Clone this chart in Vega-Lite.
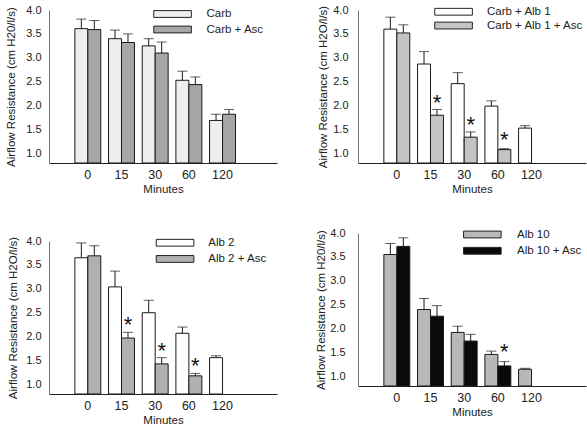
{
  "$schema": "https://vega.github.io/schema/vega-lite/v6.json",
  "background": "white",
  "padding": {"left": 5, "top": 4, "right": 2, "bottom": 2},
  "spacing": 38,
  "datasets": {
    "p1": [
      {"minute": "0", "series": "Carb", "value": 3.61, "err": 3.81, "star": null},
      {"minute": "0", "series": "Carb + Asc", "value": 3.59, "err": 3.78, "star": null},
      {"minute": "15", "series": "Carb", "value": 3.40, "err": 3.58, "star": null},
      {"minute": "15", "series": "Carb + Asc", "value": 3.32, "err": 3.50, "star": null},
      {"minute": "30", "series": "Carb", "value": 3.25, "err": 3.40, "star": null},
      {"minute": "30", "series": "Carb + Asc", "value": 3.10, "err": 3.33, "star": null},
      {"minute": "60", "series": "Carb", "value": 2.53, "err": 2.72, "star": null},
      {"minute": "60", "series": "Carb + Asc", "value": 2.44, "err": 2.60, "star": null},
      {"minute": "120", "series": "Carb", "value": 1.69, "err": 1.82, "star": null},
      {"minute": "120", "series": "Carb + Asc", "value": 1.82, "err": 1.92, "star": null}
    ],
    "p2": [
      {"minute": "0", "series": "Carb + Alb 1", "value": 3.60, "err": 3.85, "star": null},
      {"minute": "0", "series": "Carb + Alb 1 + Asc", "value": 3.52, "err": 3.69, "star": null},
      {"minute": "15", "series": "Carb + Alb 1", "value": 2.87, "err": 3.13, "star": null},
      {"minute": "15", "series": "Carb + Alb 1 + Asc", "value": 1.80, "err": 1.92, "star": 2.19},
      {"minute": "30", "series": "Carb + Alb 1", "value": 2.46, "err": 2.69, "star": null},
      {"minute": "30", "series": "Carb + Alb 1 + Asc", "value": 1.34, "err": 1.45, "star": 1.73},
      {"minute": "60", "series": "Carb + Alb 1", "value": 1.99, "err": 2.10, "star": null},
      {"minute": "60", "series": "Carb + Alb 1 + Asc", "value": 1.08, "err": 1.10, "star": 1.40},
      {"minute": "120", "series": "Carb + Alb 1", "value": 1.53, "err": 1.58, "star": null}
    ],
    "p3": [
      {"minute": "0", "series": "Alb 2", "value": 3.65, "err": 3.96, "star": null},
      {"minute": "0", "series": "Alb 2 + Asc", "value": 3.69, "err": 3.90, "star": null},
      {"minute": "15", "series": "Alb 2", "value": 3.04, "err": 3.37, "star": null},
      {"minute": "15", "series": "Alb 2 + Asc", "value": 1.97, "err": 2.09, "star": 2.37},
      {"minute": "30", "series": "Alb 2", "value": 2.50, "err": 2.76, "star": null},
      {"minute": "30", "series": "Alb 2 + Asc", "value": 1.43, "err": 1.56, "star": 1.83},
      {"minute": "60", "series": "Alb 2", "value": 2.07, "err": 2.20, "star": null},
      {"minute": "60", "series": "Alb 2 + Asc", "value": 1.18, "err": 1.23, "star": 1.52},
      {"minute": "120", "series": "Alb 2", "value": 1.56, "err": 1.60, "star": null}
    ],
    "p4": [
      {"minute": "0", "series": "Alb 10", "value": 3.55, "err": 3.78, "star": null},
      {"minute": "0", "series": "Alb 10 + Asc", "value": 3.72, "err": 3.90, "star": null},
      {"minute": "15", "series": "Alb 10", "value": 2.40, "err": 2.63, "star": null},
      {"minute": "15", "series": "Alb 10 + Asc", "value": 2.26, "err": 2.48, "star": null},
      {"minute": "30", "series": "Alb 10", "value": 1.92, "err": 2.05, "star": null},
      {"minute": "30", "series": "Alb 10 + Asc", "value": 1.74, "err": 1.88, "star": null},
      {"minute": "60", "series": "Alb 10", "value": 1.46, "err": 1.53, "star": null},
      {"minute": "60", "series": "Alb 10 + Asc", "value": 1.22, "err": 1.31, "star": 1.63},
      {"minute": "120", "series": "Alb 10", "value": 1.15, "err": 1.17, "star": null}
    ]
  },
  "config": {
    "font": "Liberation Sans",
    "view": {"stroke": null},
    "axis": {"grid": false, "ticks": false, "labelColor": "#222", "titleColor": "#222", "titleFontWeight": "normal", "domainColor": "#222", "domainWidth": 1},
    "axisX": {"labelFontSize": 12.5, "labelAngle": 0, "labelPadding": 5, "titleFontSize": 11.5, "titlePadding": 3},
    "axisY": {"labelFontSize": 11, "titleFontSize": 11.5, "domainColor": "#777"},
    "legend": {"title": null, "orient": "none", "padding": 0, "labelFontSize": 11.5, "labelColor": "#222", "symbolType": "M-4.7,-0.85H4.7V0.85H-4.7Z", "symbolSize": 64, "symbolStrokeColor": "#222", "symbolStrokeWidth": 1, "symbolOpacity": 1}
  },
  "resolve": {"scale": {"color": "independent", "xOffset": "independent", "x": "independent", "y": "independent"}, "legend": {"color": "independent"}},
  "hconcat": [
    {
      "spacing": 78,
      "bounds": "flush",
      "resolve": {"scale": {"color": "independent", "xOffset": "independent", "x": "independent", "y": "independent"}, "legend": {"color": "independent"}},
      "vconcat": [
        {
          "width": 228, "height": 153,
          "data": {"name": "p1"},
          "encoding": {
            "x": {"field": "minute", "type": "ordinal", "sort": ["0", "15", "30", "60", "120"], "scale": {"paddingInner": 0.23, "paddingOuter": 1.12, "align": 0.384}, "axis": {"title": "Minutes"}},
            "xOffset": {"field": "series", "type": "nominal", "sort": ["Carb", "Carb + Asc"], "scale": {"paddingInner": 0, "paddingOuter": 0}},
            "y": {"field": "value", "type": "quantitative", "scale": {"domain": [0.8, 4], "zero": false, "nice": false}, "axis": {"title": "Airflow Resistance  (cm H20/l/s)", "values": [1, 1.5, 2, 2.5, 3, 3.5, 4], "format": ".1f", "labelPadding": 8, "titlePadding": 9}}
          },
          "layer": [
            {"mark": {"type": "bar", "stroke": "#1a1a1a", "strokeWidth": 1},
             "encoding": {"y2": {"datum": 0.8},
               "color": {"field": "series", "type": "nominal", "scale": {"domain": ["Carb", "Carb + Asc"], "range": ["#eeeeee", "#a6a6a6"]},
                 "legend": {"legendX": 117.8, "legendY": -1.75, "labelOffset": 28.2, "rowPadding": 2.5}}}},
            {"mark": {"type": "rule", "color": "#1a1a1a", "strokeWidth": 1}, "encoding": {"y2": {"field": "err"}}},
            {"mark": {"type": "tick", "color": "#1a1a1a", "size": 10, "thickness": 1}, "encoding": {"y": {"field": "err", "type": "quantitative"}}}
          ]
        },
        {
          "width": 228, "height": 153,
          "data": {"name": "p3"},
          "encoding": {
            "x": {"field": "minute", "type": "ordinal", "sort": ["0", "15", "30", "60", "120"], "scale": {"paddingInner": 0.23, "paddingOuter": 1.12, "align": 0.384}, "axis": {"title": "Minutes"}},
            "xOffset": {"field": "series", "type": "nominal", "sort": ["Alb 2", "Alb 2 + Asc"], "scale": {"domain": ["Alb 2", "Alb 2 + Asc"], "paddingInner": 0, "paddingOuter": 0}},
            "y": {"field": "value", "type": "quantitative", "scale": {"domain": [0.8, 4], "zero": false, "nice": false}, "axis": {"title": "Airflow Resistance (cm H2O/l/s)", "values": [1, 1.5, 2, 2.5, 3, 3.5, 4], "format": ".1f", "labelPadding": 8, "titlePadding": 7}}
          },
          "layer": [
            {"mark": {"type": "bar", "stroke": "#1a1a1a", "strokeWidth": 1},
             "encoding": {"y2": {"datum": 0.8},
               "color": {"field": "series", "type": "nominal", "scale": {"domain": ["Alb 2", "Alb 2 + Asc"], "range": ["#ffffff", "#b0b0b0"]},
                 "legend": {"legendX": 120.3, "legendY": -4, "labelOffset": 27.5, "rowPadding": 3.2}}}},
            {"mark": {"type": "rule", "color": "#1a1a1a", "strokeWidth": 1}, "encoding": {"y2": {"field": "err"}}},
            {"mark": {"type": "tick", "color": "#1a1a1a", "size": 10, "thickness": 1}, "encoding": {"y": {"field": "err", "type": "quantitative"}}},
            {"transform": [{"filter": "datum.star != null"}], "mark": {"type": "text", "text": "*", "fontSize": 22, "baseline": "alphabetic", "dy": 13, "color": "#111"}, "encoding": {"y": {"field": "star", "type": "quantitative"}}}
          ]
        }
      ]
    },
    {
      "spacing": 70,
      "bounds": "flush",
      "resolve": {"scale": {"color": "independent", "xOffset": "independent", "x": "independent", "y": "independent"}, "legend": {"color": "independent"}},
      "vconcat": [
        {
          "width": 228, "height": 153,
          "data": {"name": "p2"},
          "encoding": {
            "x": {"field": "minute", "type": "ordinal", "sort": ["0", "15", "30", "60", "120"], "scale": {"paddingInner": 0.23, "paddingOuter": 1.12, "align": 0.384}, "axis": {"title": "Minutes"}},
            "xOffset": {"field": "series", "type": "nominal", "sort": ["Carb + Alb 1", "Carb + Alb 1 + Asc"], "scale": {"domain": ["Carb + Alb 1", "Carb + Alb 1 + Asc"], "paddingInner": 0, "paddingOuter": 0}},
            "y": {"field": "value", "type": "quantitative", "scale": {"domain": [0.8, 4], "zero": false, "nice": false}, "axis": {"title": "Airflow Resistance (cm H2O/l/s)", "values": [1, 1.5, 2, 2.5, 3, 3.5, 4], "format": ".1f", "labelPadding": 10, "titlePadding": 4}}
          },
          "layer": [
            {"mark": {"type": "bar", "stroke": "#1a1a1a", "strokeWidth": 1},
             "encoding": {"y2": {"datum": 0.8},
               "color": {"field": "series", "type": "nominal", "scale": {"domain": ["Carb + Alb 1", "Carb + Alb 1 + Asc"], "range": ["#ffffff", "#c4c4c4"]},
                 "legend": {"legendX": 89.8, "legendY": -4, "labelOffset": 27.7, "rowPadding": 0.8}}}},
            {"mark": {"type": "rule", "color": "#1a1a1a", "strokeWidth": 1}, "encoding": {"y2": {"field": "err"}}},
            {"mark": {"type": "tick", "color": "#1a1a1a", "size": 10, "thickness": 1}, "encoding": {"y": {"field": "err", "type": "quantitative"}}},
            {"transform": [{"filter": "datum.star != null"}], "mark": {"type": "text", "text": "*", "fontSize": 22, "baseline": "alphabetic", "dy": 13, "color": "#111"}, "encoding": {"y": {"field": "star", "type": "quantitative"}}}
          ]
        },
        {
          "width": 228, "height": 153,
          "data": {"name": "p4"},
          "encoding": {
            "x": {"field": "minute", "type": "ordinal", "sort": ["0", "15", "30", "60", "120"], "scale": {"paddingInner": 0.23, "paddingOuter": 1.12, "align": 0.384}, "axis": {"title": "Minutes"}},
            "xOffset": {"field": "series", "type": "nominal", "sort": ["Alb 10", "Alb 10 + Asc"], "scale": {"domain": ["Alb 10", "Alb 10 + Asc"], "paddingInner": 0, "paddingOuter": 0}},
            "y": {"field": "value", "type": "quantitative", "scale": {"domain": [0.8, 4], "zero": false, "nice": false}, "axis": {"title": "Airflow Resistance (cm H20/l/s)", "values": [1, 1.5, 2, 2.5, 3, 3.5, 4], "format": ".1f", "labelPadding": 13, "titlePadding": 3}}
          },
          "layer": [
            {"mark": {"type": "bar", "stroke": "#1a1a1a", "strokeWidth": 1},
             "encoding": {"y2": {"datum": 0.8},
               "color": {"field": "series", "type": "nominal", "scale": {"domain": ["Alb 10", "Alb 10 + Asc"], "range": ["#b8b8b8", "#0a0a0a"]},
                 "legend": {"legendX": 118.6, "legendY": -4.25, "labelOffset": 28.9, "rowPadding": 3.3}}}},
            {"mark": {"type": "rule", "color": "#1a1a1a", "strokeWidth": 1}, "encoding": {"y2": {"field": "err"}}},
            {"mark": {"type": "tick", "color": "#1a1a1a", "size": 10, "thickness": 1}, "encoding": {"y": {"field": "err", "type": "quantitative"}}},
            {"transform": [{"filter": "datum.star != null"}], "mark": {"type": "text", "text": "*", "fontSize": 22, "baseline": "alphabetic", "dy": 13, "color": "#111"}, "encoding": {"y": {"field": "star", "type": "quantitative"}}}
          ]
        }
      ]
    }
  ]
}
